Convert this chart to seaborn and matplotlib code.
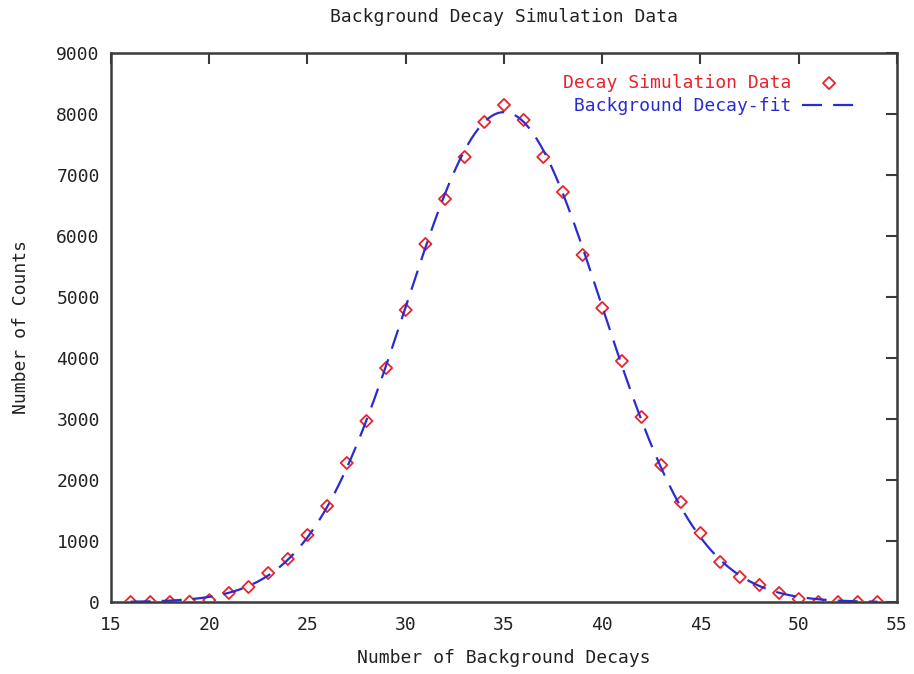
import numpy as np
import pandas as pd
import matplotlib
matplotlib.use("Agg")
import matplotlib.pyplot as plt
from matplotlib.lines import Line2D
import seaborn as sns

# ---- data ----
decays = list(range(16, 55))
counts = [0, 0, 0, 5, 30, 148, 246, 475, 705, 1098, 1574, 2279, 2967, 3836,
          4787, 5869, 6607, 7295, 7869, 8148, 7902, 7295, 6721, 5689, 4820,
          3951, 3033, 2246, 1639, 1131, 656, 410, 279, 148, 49, 0, 0, 0, 0]

# Gaussian fit parameters
fit_amplitude = 8030.0
fit_mean = 35.0
fit_sigma = 4.97
fit_range = (16, 54)

x_ticks = list(range(15, 56, 5))
y_ticks = list(range(0, 9001, 1000))

title = "Background Decay Simulation Data"
x_label = "Number of Background Decays"
y_label = "Number of Counts"
data_label = "Decay Simulation Data"
fit_label = " Background Decay-fit"

red = "#e8232b"
blue = "#2b2bd2"
axis_col = "#3a3a3a"
text_col = "#222222"
fs = 13

sns.set_theme(style="white")
plt.rcParams["font.family"] = ["DejaVu Sans Mono"]

df = pd.DataFrame({"x": decays, "y": counts})
fx = np.linspace(fit_range[0], fit_range[1], 400)
fy = fit_amplitude * np.exp(-0.5 * ((fx - fit_mean) / fit_sigma) ** 2)
fit_df = pd.DataFrame({"x": fx, "y": fy})

fig = plt.figure(figsize=(9.14, 6.74), dpi=100)
ax = fig.add_axes([0.1214, 0.1068, 0.86, 0.8146])

sns.scatterplot(data=df, x="x", y="y", ax=ax, marker="D", s=38,
                facecolor="none", edgecolor=red, linewidth=1.3,
                label=data_label, zorder=3)
sns.lineplot(data=fit_df, x="x", y="y", ax=ax, color=blue, linewidth=1.6,
             label=fit_label, zorder=4)
ax.lines[-1].set_dashes([9, 5])

ax.set_xlim(15, 55)
ax.set_ylim(0, 9000)
ax.set_xticks(x_ticks)
ax.set_yticks(y_ticks)
ax.tick_params(direction="in", top=True, right=True, length=8, width=1.5,
               color=axis_col, labelsize=fs, labelcolor=text_col)
ax.tick_params(axis="x", pad=10)
ax.tick_params(axis="y", pad=8)
for s in ax.spines.values():
    s.set_color(axis_col)
    s.set_linewidth(1.8)
    s.set_visible(True)

ax.set_title(title, fontsize=fs, color=text_col, pad=22)
ax.set_xlabel(x_label, fontsize=fs, color=text_col, labelpad=11)
ax.set_ylabel(y_label, fontsize=fs, color=text_col, labelpad=19)

leg = ax.legend(loc="upper right", bbox_to_anchor=(0.948, 0.962),
                frameon=False, markerfirst=False, fontsize=fs,
                handlelength=3.0, handletextpad=0.6, labelspacing=0.3,
                borderaxespad=0, borderpad=0)
for t, c in zip(leg.get_texts(), [red, blue]):
    t.set_color(c)
for h in leg.legend_handles:
    if isinstance(h, Line2D):
        h.set_dashes([9, 5])

fig.savefig("out.png", dpi=100)
